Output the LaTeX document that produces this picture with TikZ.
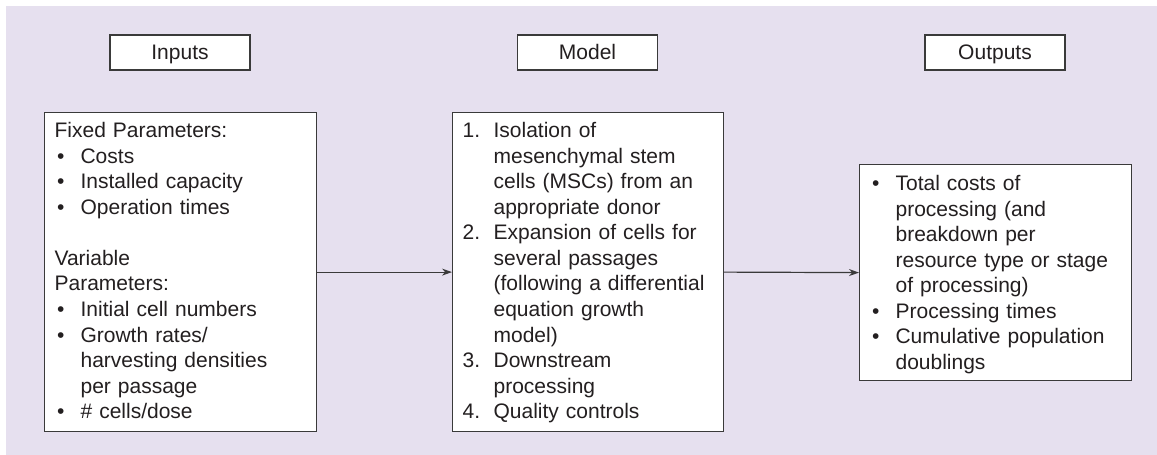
\documentclass[tikz,border=0pt]{standalone}
\usepackage{fontspec}
\setmainfont{Liberation Sans}
\usetikzlibrary{arrows.meta}
\definecolor{bg}{HTML}{E6E0EF}
\definecolor{ln}{HTML}{3A3A3A}
\definecolor{tx}{HTML}{231F20}
\newcommand\bl[1]{\makebox[26pt][l]{\hspace{2.5pt}\textbullet}#1}
\newcommand\cl[1]{\hspace*{26pt}#1}
\newcommand\nl[2]{\makebox[31pt][l]{#1}#2}
\newcommand\nc[1]{\hspace*{31pt}#1}
\begin{document}
\begin{tikzpicture}[x=1pt,y=-1pt,
  font=\fontsize{21}{25.55}\selectfont, text=tx,
  lbl/.style={draw=ln, line width=1.2pt, fill=white, minimum width=140pt, minimum height=35pt, inner sep=0pt, text height=17pt, text depth=3pt},
  bigbox/.style={draw=ln, line width=1.2pt, fill=white, text width=252pt, inner xsep=10pt, inner ysep=0pt, align=left, anchor=north west},
  arr/.style={draw=ln, line width=1.2pt, -{Stealth[length=10pt,width=7pt]}}]
\useasboundingbox (0,0) rectangle (1157,455);
\fill[bg] (6,6) rectangle (1157,455);
\node[lbl] (linputs) at (180,52.5) {Inputs};
\node[lbl] (lmodel) at (587.5,52.5) {Model};
\node[lbl] (loutputs) at (995,52.5) {Outputs};
\node[bigbox, text height=25pt, text depth=294pt] (inbox) at (44,112) {Fixed Parameters:\\
\bl{Costs}\\
\bl{Installed capacity}\\
\bl{Operation times}\\
\mbox{}\\
Variable\\
Parameters:\\
\bl{Initial cell numbers}\\
\bl{Growth rates/}\\
\cl{harvesting densities}\\
\cl{per passage}\\
\bl{\# cells/dose}};
\node[bigbox, text width=251pt, text height=25pt, text depth=294pt] (modbox) at (452,112) {\nl{1.}{Isolation of}\\
\nc{mesenchymal stem}\\
\nc{cells (MSCs) from an}\\
\nc{appropriate donor}\\
\nl{2.}{Expansion of cells for}\\
\nc{several passages}\\
\nc{(following a differential}\\
\nc{equation growth}\\
\nc{model)}\\
\nl{3.}{Downstream}\\
\nc{processing}\\
\nl{4.}{Quality controls}};
\node[bigbox, text height=26pt, text depth=190pt] (outbox) at (859,164) {\bl{Total costs of}\\
\cl{processing (and}\\
\cl{breakdown per}\\
\cl{resource type or stage}\\
\cl{of processing)}\\
\bl{Processing times}\\
\bl{Cumulative population}\\
\cl{doublings}};
\draw[arr] (inbox.east) -- (modbox.west);
\draw[arr] (modbox.east) -- (outbox.west);
\end{tikzpicture}
\end{document}
